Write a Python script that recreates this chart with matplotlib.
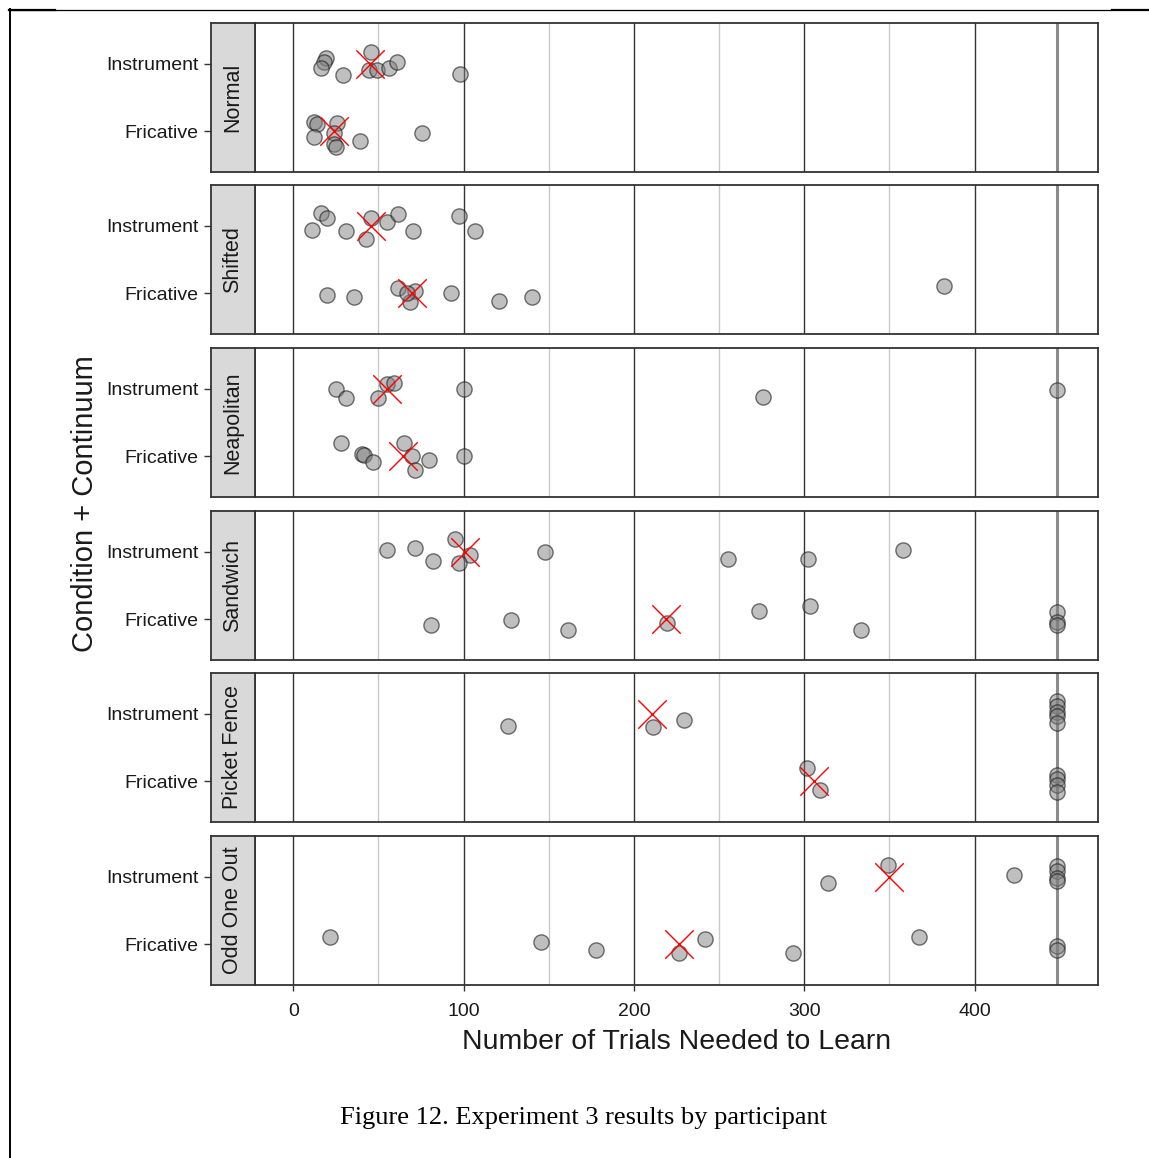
import matplotlib
matplotlib.use("Agg")
import matplotlib.pyplot as plt
from matplotlib.lines import Line2D

# ---------------- data ----------------
conditions = ["Normal", "Shifted", "Neapolitan", "Sandwich", "Picket Fence", "Odd One Out"]
continua = ["Fricative", "Instrument"]
x_ticks = [0, 100, 200, 300, 400]

normal_instrument = [19.0, 18.0, 16.1, 29.4, 45.4, 44.4, 49.3, 56.1, 60.6, 98.1]
normal_instrument_jit = [0.08, 0.03, -0.06, -0.17, 0.17, -0.09, -0.09, -0.06, 0.03, -0.16]
normal_fricative = [12.2, 13.8, 12.2, 25.9, 23.9, 23.9, 24.9, 38.9, 75.7]
normal_fricative_jit = [0.14, 0.11, -0.09, 0.12, -0.03, -0.18, -0.23, -0.14, -0.03]

shifted_instrument = [16.1, 20.0, 11.2, 30.7, 45.4, 42.5, 55.2, 61.6, 70.2, 97.1, 106.5]
shifted_instrument_jit = [0.18, 0.11, -0.06, -0.08, 0.12, -0.20, 0.06, 0.17, -0.08, 0.14, -0.08]
shifted_fricative = [19.6, 35.6, 61.4, 71.7, 68.8, 66.9, 92.7, 120.5, 140.1, 382.1]
shifted_fricative_jit = [-0.02, -0.05, 0.08, 0.04, -0.13, 0.0, 0.0, -0.11, -0.05, 0.11]

neapolitan_instrument = [24.9, 30.7, 54.8, 59.0, 49.7, 100.0, 275.6, 448.5]
neapolitan_instrument_jit = [0.0, -0.14, 0.07, 0.08, -0.14, 0.0, -0.12, -0.02]
neapolitan_fricative = [28.2, 40.5, 41.5, 46.7, 64.9, 69.8, 71.3, 79.9, 100.4]
neapolitan_fricative_jit = [0.19, 0.03, 0.02, -0.09, 0.19, 0.0, -0.20, -0.06, 0.0]

sandwich_instrument = [55.2, 71.3, 82.0, 94.9, 104.0, 97.0, 147.5, 255.0, 302.0, 357.9]
sandwich_instrument_jit = [0.02, 0.06, -0.14, 0.19, -0.05, -0.17, -0.01, -0.11, -0.11, 0.02]
sandwich_fricative = [80.9, 128.0, 161.5, 219.4, 273.2, 303.1, 333.4, 448.5, 448.5, 448.5]
sandwich_fricative_jit = [-0.09, -0.01, -0.16, -0.06, 0.13, 0.19, -0.16, 0.11, -0.04, -0.08]

picket_instrument = [126.0, 211.1, 229.3, 448.5, 448.5, 448.5, 448.5, 448.5]
picket_instrument_jit = [-0.18, -0.19, -0.10, 0.18, 0.11, 0.03, -0.04, -0.14]
picket_fricative = [301.9, 309.3, 448.5, 448.5, 448.5, 448.5]
picket_fricative_jit = [0.20, -0.13, 0.10, 0.03, -0.05, -0.15]

oddone_instrument = [314.1, 349.4, 422.9, 448.5, 448.5, 448.5, 448.5]
oddone_instrument_jit = [-0.10, 0.17, 0.02, 0.16, 0.08, -0.02, -0.06]
oddone_fricative = [21.7, 145.4, 177.8, 242.0, 226.5, 293.6, 367.5, 448.5, 448.5]
oddone_fricative_jit = [0.11, 0.03, -0.08, 0.08, -0.13, -0.13, 0.11, -0.02, -0.08]

mean_instrument = [45.0, 45.4, 54.8, 100.6, 210.5, 350.0]
mean_fricative = [23.9, 69.8, 64.5, 219.0, 306.0, 226.5]

max_trials = 448.5

instrument_sets = [
    (normal_instrument, normal_instrument_jit),
    (shifted_instrument, shifted_instrument_jit),
    (neapolitan_instrument, neapolitan_instrument_jit),
    (sandwich_instrument, sandwich_instrument_jit),
    (picket_instrument, picket_instrument_jit),
    (oddone_instrument, oddone_instrument_jit),
]
fricative_sets = [
    (normal_fricative, normal_fricative_jit),
    (shifted_fricative, shifted_fricative_jit),
    (neapolitan_fricative, neapolitan_fricative_jit),
    (sandwich_fricative, sandwich_fricative_jit),
    (picket_fricative, picket_fricative_jit),
    (oddone_fricative, oddone_fricative_jit),
]

# ---------------- layout ----------------
W, H = 1149, 1158
fig = plt.figure(figsize=(W / 100, H / 100), dpi=100)
fig.patch.set_facecolor("white")

SANS = ["Liberation Sans", "DejaVu Sans"]
SERIF = ["Liberation Serif", "DejaVu Serif"]
TXT = "#1a1a1a"


def rect(l, t, r, b):
    return [l / W, 1 - b / H, (r - l) / W, (b - t) / H]


panel_tops = [23, 185, 348, 511, 673, 836]
panel_h = 149
p_left, p_right = 255, 1098
s_left = 211

for i, cond in enumerate(conditions):
    t = panel_tops[i]
    b = t + panel_h
    ax = fig.add_axes(rect(p_left, t, p_right, b))
    sx = fig.add_axes(rect(s_left, t, p_left, b))

    ax.set_xlim(-22.5, 472.5)
    ax.set_ylim(0.4, 2.6)
    sx.set_ylim(0.4, 2.6)
    sx.set_xlim(0, 1)

    # grid lines
    for v in [50, 150, 250, 350]:
        ax.axvline(v, color="#c9c9c9", lw=1.0, zorder=1)
    for v in x_ticks:
        ax.axvline(v, color="#333333", lw=1.0, zorder=1)
    ax.axvline(max_trials, color="#8c8c8c", lw=2.2, zorder=1)

    xi, ji = instrument_sets[i]
    xf, jf = fricative_sets[i]
    ax.scatter(xi, [2 + j for j in ji], s=120, facecolor=(0.5, 0.5, 0.5, 0.5),
               edgecolor=(0.1, 0.1, 0.1, 0.6), linewidth=1.0, zorder=3)
    ax.scatter(xf, [1 + j for j in jf], s=120, facecolor=(0.5, 0.5, 0.5, 0.5),
               edgecolor=(0.1, 0.1, 0.1, 0.6), linewidth=1.0, zorder=3)
    ax.scatter([mean_instrument[i], mean_fricative[i]], [2, 1], marker="x",
               s=420, color="red", linewidth=1.0, zorder=4)

    ax.set_yticks([])
    for sp in ax.spines.values():
        sp.set_color("#333333")
        sp.set_linewidth(1.3)

    # strip
    sx.set_facecolor("#d9d9d9")
    for sp in sx.spines.values():
        sp.set_color("#333333")
        sp.set_linewidth(1.3)
    sx.set_xticks([])
    sx.set_yticks([1, 2])
    sx.set_yticklabels(continua, family=SANS, fontsize=14, color=TXT, va="center_baseline")
    sx.tick_params(axis="y", length=5, width=1, color="#333333", pad=4)
    sx.text(0.5, 0.5, cond, rotation=90, ha="center", va="center",
            transform=sx.transAxes, family=SANS, fontsize=15.5, color=TXT)

    if i < len(conditions) - 1:
        ax.set_xticks([])
    else:
        ax.set_xticks(x_ticks)
        ax.set_xticklabels([str(v) for v in x_ticks], family=SANS, fontsize=14, color=TXT)
        ax.tick_params(axis="x", length=4, width=1, color="#333333", pad=9)

# titles
fig.text(676.5 / W, 1 - 1042 / H, "Number of Trials Needed to Learn", ha="center", va="center",
         family=SANS, fontsize=20.5, color=TXT)
fig.text(85 / W, 1 - 504 / H, "Condition + Continuum", ha="center", va="center", rotation=90,
         family=SANS, fontsize=21, color=TXT)
fig.text(583 / W, 1 - 1118 / H, "Figure 12. Experiment 3 results by participant", ha="center",
         va="center", family=SERIF, fontsize=19, color="black")

# page frame lines
fig.add_artist(Line2D([9.5 / W, 9.5 / W], [0, 1 - 9 / H], color="black", lw=1.4,
                      transform=fig.transFigure))
fig.add_artist(Line2D([9 / W, 1110 / W], [1 - 9.5 / H, 1 - 9.5 / H], color="black", lw=0.9,
                      transform=fig.transFigure))
fig.add_artist(Line2D([9 / W, 55 / W], [1 - 10 / H, 1 - 10 / H], color="black", lw=1.6,
                      transform=fig.transFigure))
fig.add_artist(Line2D([1112 / W, 1.0], [1 - 10 / H, 1 - 10 / H], color="black", lw=1.6,
                      transform=fig.transFigure))

fig.savefig("out.png", dpi=100, facecolor="white")
